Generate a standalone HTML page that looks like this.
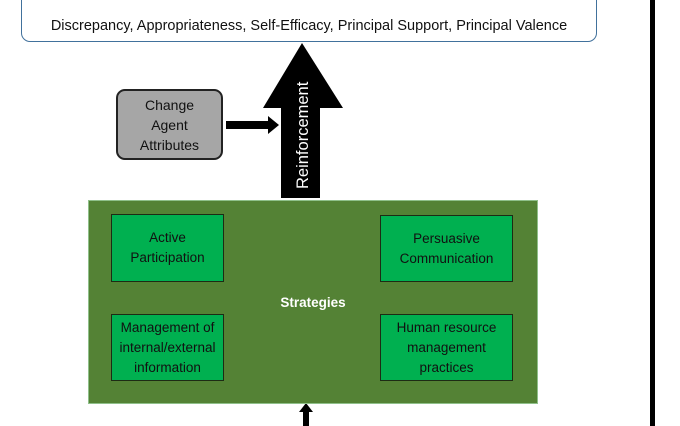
<!DOCTYPE html>
<html><head><style>
body{margin:0;width:680px;height:426px;background:#fff;overflow:hidden;position:relative;font-family:"Liberation Sans",sans-serif;}
.a{position:absolute;box-sizing:border-box;display:flex;align-items:center;justify-content:center;text-align:center;}
.g{background:#00b050;border:1.5px solid #1d2b14;font-size:13.5px;line-height:20px;color:#111;}
</style></head><body>
<div class="a" style="left:21px;top:-20px;width:576px;height:62px;border:1.5px solid #41719c;border-radius:9px;padding-top:30px;font-size:14.5px;color:#111;white-space:nowrap;">Discrepancy, Appropriateness, Self-Efficacy, Principal Support, Principal Valence</div>
<div style="position:absolute;left:650px;top:0;width:5px;height:426px;background:#000"></div>
<svg style="position:absolute;left:0;top:0" width="680" height="426">
<polygon points="302,43 343,108 320,108 320,198 281,198 281,108 263,108" fill="#000"/>
<text transform="translate(308,189) rotate(-90)" fill="#fff" font-size="16.5" font-family="Liberation Sans, sans-serif">Reinforcement</text>
<rect x="226" y="121" width="44" height="8" fill="#000"/>
<polygon points="268,116 279,125 268,134" fill="#000"/>
<rect x="303" y="410" width="6" height="16" fill="#000"/>
<polygon points="299,412 306,403 313,412" fill="#000"/>
</svg>
<div class="a" style="left:116px;top:89px;width:107px;height:71px;background:#a6a6a6;border:2px solid #222;border-radius:9px;font-size:14px;line-height:20px;color:#111;">Change<br>Agent<br>Attributes</div>
<div style="position:absolute;left:88px;top:200px;width:450px;height:204px;background:#548235;border:1px solid #8fc08a;box-sizing:border-box"></div>
<div class="a g" style="left:111px;top:214px;width:113px;height:68px;">Active<br>Participation</div>
<div class="a g" style="left:380px;top:215px;width:133px;height:67px;">Persuasive<br>Communication</div>
<div class="a g" style="left:111px;top:314px;width:113px;height:67px;">Management of<br>internal/external<br>information</div>
<div class="a g" style="left:380px;top:314px;width:133px;height:67px;">Human resource<br>management<br>practices</div>
<div class="a" style="left:263px;top:292px;width:100px;height:20px;color:#fff;font-weight:bold;font-size:13.5px;">Strategies</div>
</body></html>
